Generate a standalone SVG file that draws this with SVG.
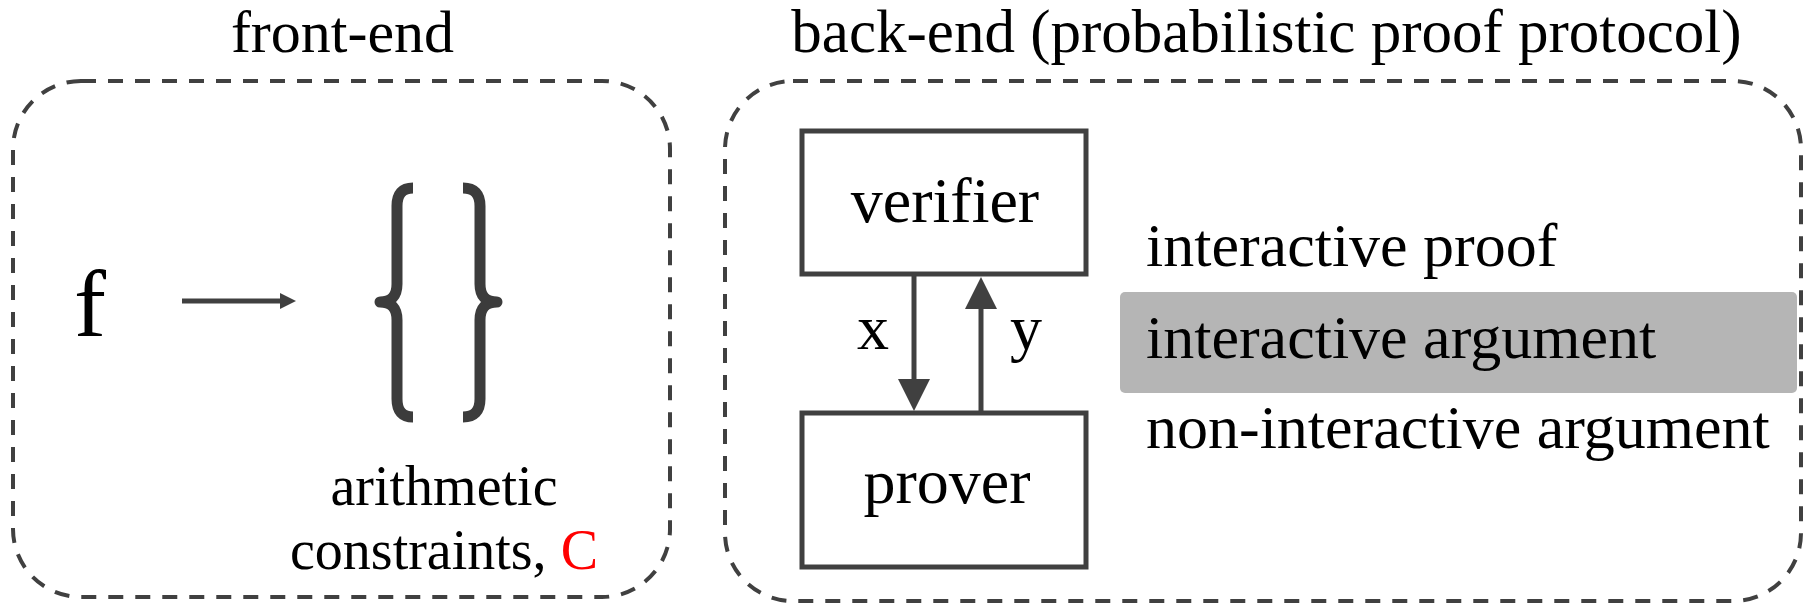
<svg xmlns="http://www.w3.org/2000/svg" width="1804" height="604" viewBox="0 0 1804 604">
<style>
.t{font-family:"Liberation Serif","Times New Roman",serif;fill:#000}
.dash{fill:none;stroke:#404040;stroke-width:4;stroke-dasharray:15 12}
.box{fill:#fff;stroke:#404040;stroke-width:5}
.ln{stroke:#404040;stroke-width:5;fill:none}
.hd{fill:#404040}
.brace{fill:none;stroke:#3c3c3c;stroke-width:11;stroke-linejoin:round}
</style>
<rect width="1804" height="604" fill="#fff"/>
<g id="front-end">
<text class="t" x="342.5" y="52" font-size="60" text-anchor="middle">front-end</text>
<rect class="dash" x="13" y="81" width="657" height="516" rx="68"/>
</g>
<g id="back-end">
<text class="t" x="1266.5" y="52" font-size="61" text-anchor="middle">back-end (probabilistic proof protocol)</text>
<rect class="dash" x="725" y="81" width="1076" height="520" rx="68"/>
</g>
<g id="f">
<text class="t" x="74" y="336" font-size="96">f</text>
</g>
<g id="constraints">
<path class="brace" d="M413,188 Q397,188 397,206 L397,284 Q397,302 380,302 Q397,302 397,320 L397,399 Q397,417 413,417"/>
<path class="brace" d="M463,188 Q480,188 480,206 L480,284 Q480,302 497,302 Q480,302 480,320 L480,399 Q480,417 463,417"/>
<text class="t" x="444" y="505" font-size="56" text-anchor="middle">arithmetic</text>
<text class="t" x="444" y="569" font-size="56" text-anchor="middle">constraints, <tspan fill="#ff0000">C</tspan></text>
</g>
<g id="verifier">
<rect class="box" x="802" y="131" width="284" height="143"/>
<text class="t" x="945" y="222" font-size="64" text-anchor="middle">verifier</text>
</g>
<g id="prover">
<rect class="box" x="802" y="413" width="284" height="154"/>
<text class="t" x="947" y="503" font-size="64" text-anchor="middle">prover</text>
</g>
<g id="options">
<rect x="1120" y="292" width="677" height="101" rx="5" fill="#b5b5b5"/>
<text class="t" x="1146" y="266" font-size="62">interactive proof</text>
<text class="t" x="1146" y="358" font-size="62" fill="#1a1a1a">interactive argument</text>
<text class="t" x="1146" y="448" font-size="62">non-interactive argument</text>
</g>
<g id="connectors">
<line class="ln" x1="182" y1="301" x2="282" y2="301" stroke-width="4"/>
<polygon class="hd" points="280,293 296,301 280,309"/>
<line class="ln" x1="914" y1="276" x2="914" y2="381"/>
<polygon class="hd" points="898,379 930,379 914,411"/>
<line class="ln" x1="981" y1="412" x2="981" y2="307"/>
<polygon class="hd" points="965,309 997,309 981,277"/>
<text class="t" x="857" y="349" font-size="64">x</text>
<text class="t" x="1010" y="349" font-size="64">y</text>
</g>
</svg>
